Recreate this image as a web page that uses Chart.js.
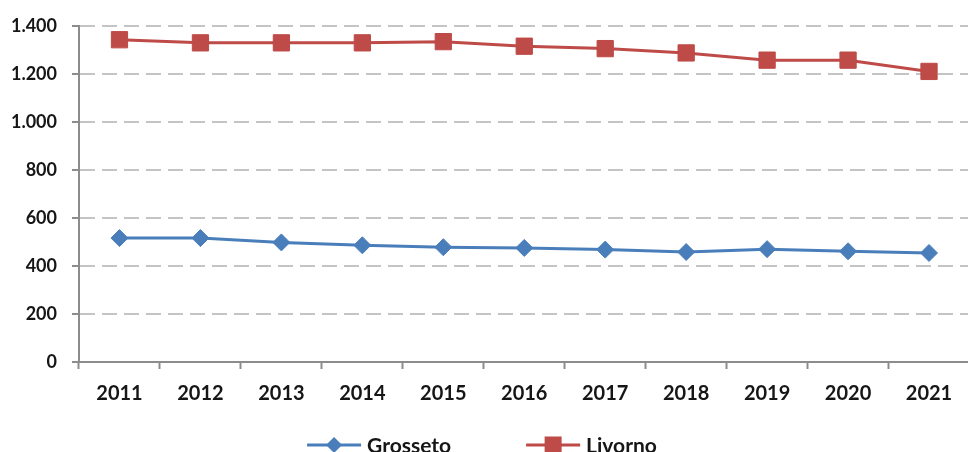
<!DOCTYPE html>
<html>
<head>
<meta charset="utf-8">
<script src="https://cdn.jsdelivr.net/npm/chart.js@4/dist/chart.umd.min.js"></script>
<style>
  html, body { margin: 0; padding: 0; background: #ffffff; overflow: hidden; }
  #wrap { width: 968px; height: 452px; overflow: hidden; position: relative; }
  canvas { display: block; }
</style>
</head>
<body>
<div id="wrap"><canvas id="chart" width="982" height="460"></canvas></div>
<script>
// Years on the category axis
const years = ['2011', '2012', '2013', '2014', '2015', '2016', '2017', '2018', '2019', '2020', '2021'];
// Yearly values per province
const grosseto = [516, 516, 498, 486, 478, 475, 468, 458, 470, 461, 454];
const livorno = [1342, 1329, 1329, 1329, 1334, 1315, 1305, 1287, 1257, 1257, 1210];
// Value axis ticks
const yTicks = [0, 200, 400, 600, 800, 1000, 1200, 1400];

const BLUE = '#4A7EBB';
const RED = '#BE4B48';
const FONT = 'Lato, "Open Sans", sans-serif';
const TEXT = '#161616';

// Italian thousands separator: 1400 -> "1.400"
function fmt(v) {
  return String(v).replace(/\B(?=(\d{3})+(?!\d))/g, '.');
}

// Bottom legend in the office-chart style: line segment with the marker, then the name
const lineLegend = {
  id: 'lineLegend',
  afterDraw(chart) {
    const ctx = chart.ctx;
    const y = 445;
    const lineLen = 54;
    const textGap = 6;
    const itemGap = 75;
    ctx.save();
    ctx.font = 'bold 21px ' + FONT;
    ctx.textBaseline = 'middle';
    const items = chart.data.datasets.map((ds) => ({
      ds,
      w: lineLen + textGap + ctx.measureText(ds.label).width
    }));
    const total = items.reduce((s, it) => s + it.w, 0) + itemGap * (items.length - 1);
    let x = 482 - total / 2;
    items.forEach((it) => {
      const ds = it.ds;
      ctx.strokeStyle = ds.borderColor;
      ctx.lineWidth = 3;
      ctx.beginPath();
      ctx.moveTo(x, y);
      ctx.lineTo(x + lineLen, y);
      ctx.stroke();
      ctx.fillStyle = ds.borderColor;
      const cx = x + lineLen / 2;
      if (ds.pointStyle === 'rectRot') {
        ctx.beginPath();
        ctx.moveTo(cx, y - 8); ctx.lineTo(cx + 8, y); ctx.lineTo(cx, y + 8); ctx.lineTo(cx - 8, y);
        ctx.closePath();
        ctx.fill();
      } else {
        ctx.fillRect(cx - 8.5, y - 8.5, 17, 17);
      }
      ctx.fillStyle = TEXT;
      ctx.fillText(ds.label, x + lineLen + textGap, y + 1);
      x += it.w + itemGap;
    });
    ctx.restore();
  }
};

new Chart(document.getElementById('chart'), {
  type: 'line',
  data: {
    labels: years,
    datasets: [
      {
        label: 'Grosseto',
        data: grosseto,
        borderColor: BLUE,
        backgroundColor: BLUE,
        borderWidth: 3,
        pointStyle: 'rectRot',
        pointRadius: 8.5,
        pointBorderWidth: 1,
        pointBackgroundColor: BLUE,
        pointBorderColor: BLUE,
        tension: 0
      },
      {
        label: 'Livorno',
        data: livorno,
        borderColor: RED,
        backgroundColor: RED,
        borderWidth: 3,
        pointStyle: 'rect',
        pointRadius: 11.5,
        pointBorderWidth: 1,
        pointBackgroundColor: RED,
        pointBorderColor: RED,
        tension: 0
      }
    ]
  },
  plugins: [lineLegend],
  options: {
    responsive: false,
    animation: false,
    layout: { padding: { top: 16, right: 0, left: 0, bottom: 41 } },
    plugins: {
      tooltip: { enabled: false },
      legend: { display: false }
    },
    scales: {
      x: {
        offset: true,
        grid: {
          offset: true,
          drawOnChartArea: false,
          drawTicks: true,
          tickLength: 7,
          tickColor: '#8c8c8c',
          tickWidth: 2
        },
        border: { display: true, color: '#8c8c8c', width: 2 },
        ticks: {
          color: TEXT,
          padding: 13,
          font: { family: FONT, size: 20, weight: 'bold' }
        }
      },
      y: {
        min: 0,
        max: 1400,
        afterBuildTicks: (scale) => { scale.ticks = yTicks.map(v => ({ value: v })); },
        afterFit: (scale) => { scale.width = 79; },
        grid: {
          color: (ctx) => ctx.tick && ctx.tick.value === 0 ? 'rgba(0,0,0,0)' : '#c4c4c4',
          lineWidth: 2,
          drawTicks: true,
          tickLength: 7,
          tickColor: '#8c8c8c',
          tickBorderDash: [],
          tickWidth: 2
        },
        border: { display: true, color: '#8c8c8c', width: 2, dash: [15, 7] },
        ticks: {
          color: TEXT,
          padding: 15,
          font: { family: FONT, size: 18, weight: 'bold' },
          callback: (v) => fmt(v)
        }
      }
    }
  }
});
</script>
</body>
</html>
